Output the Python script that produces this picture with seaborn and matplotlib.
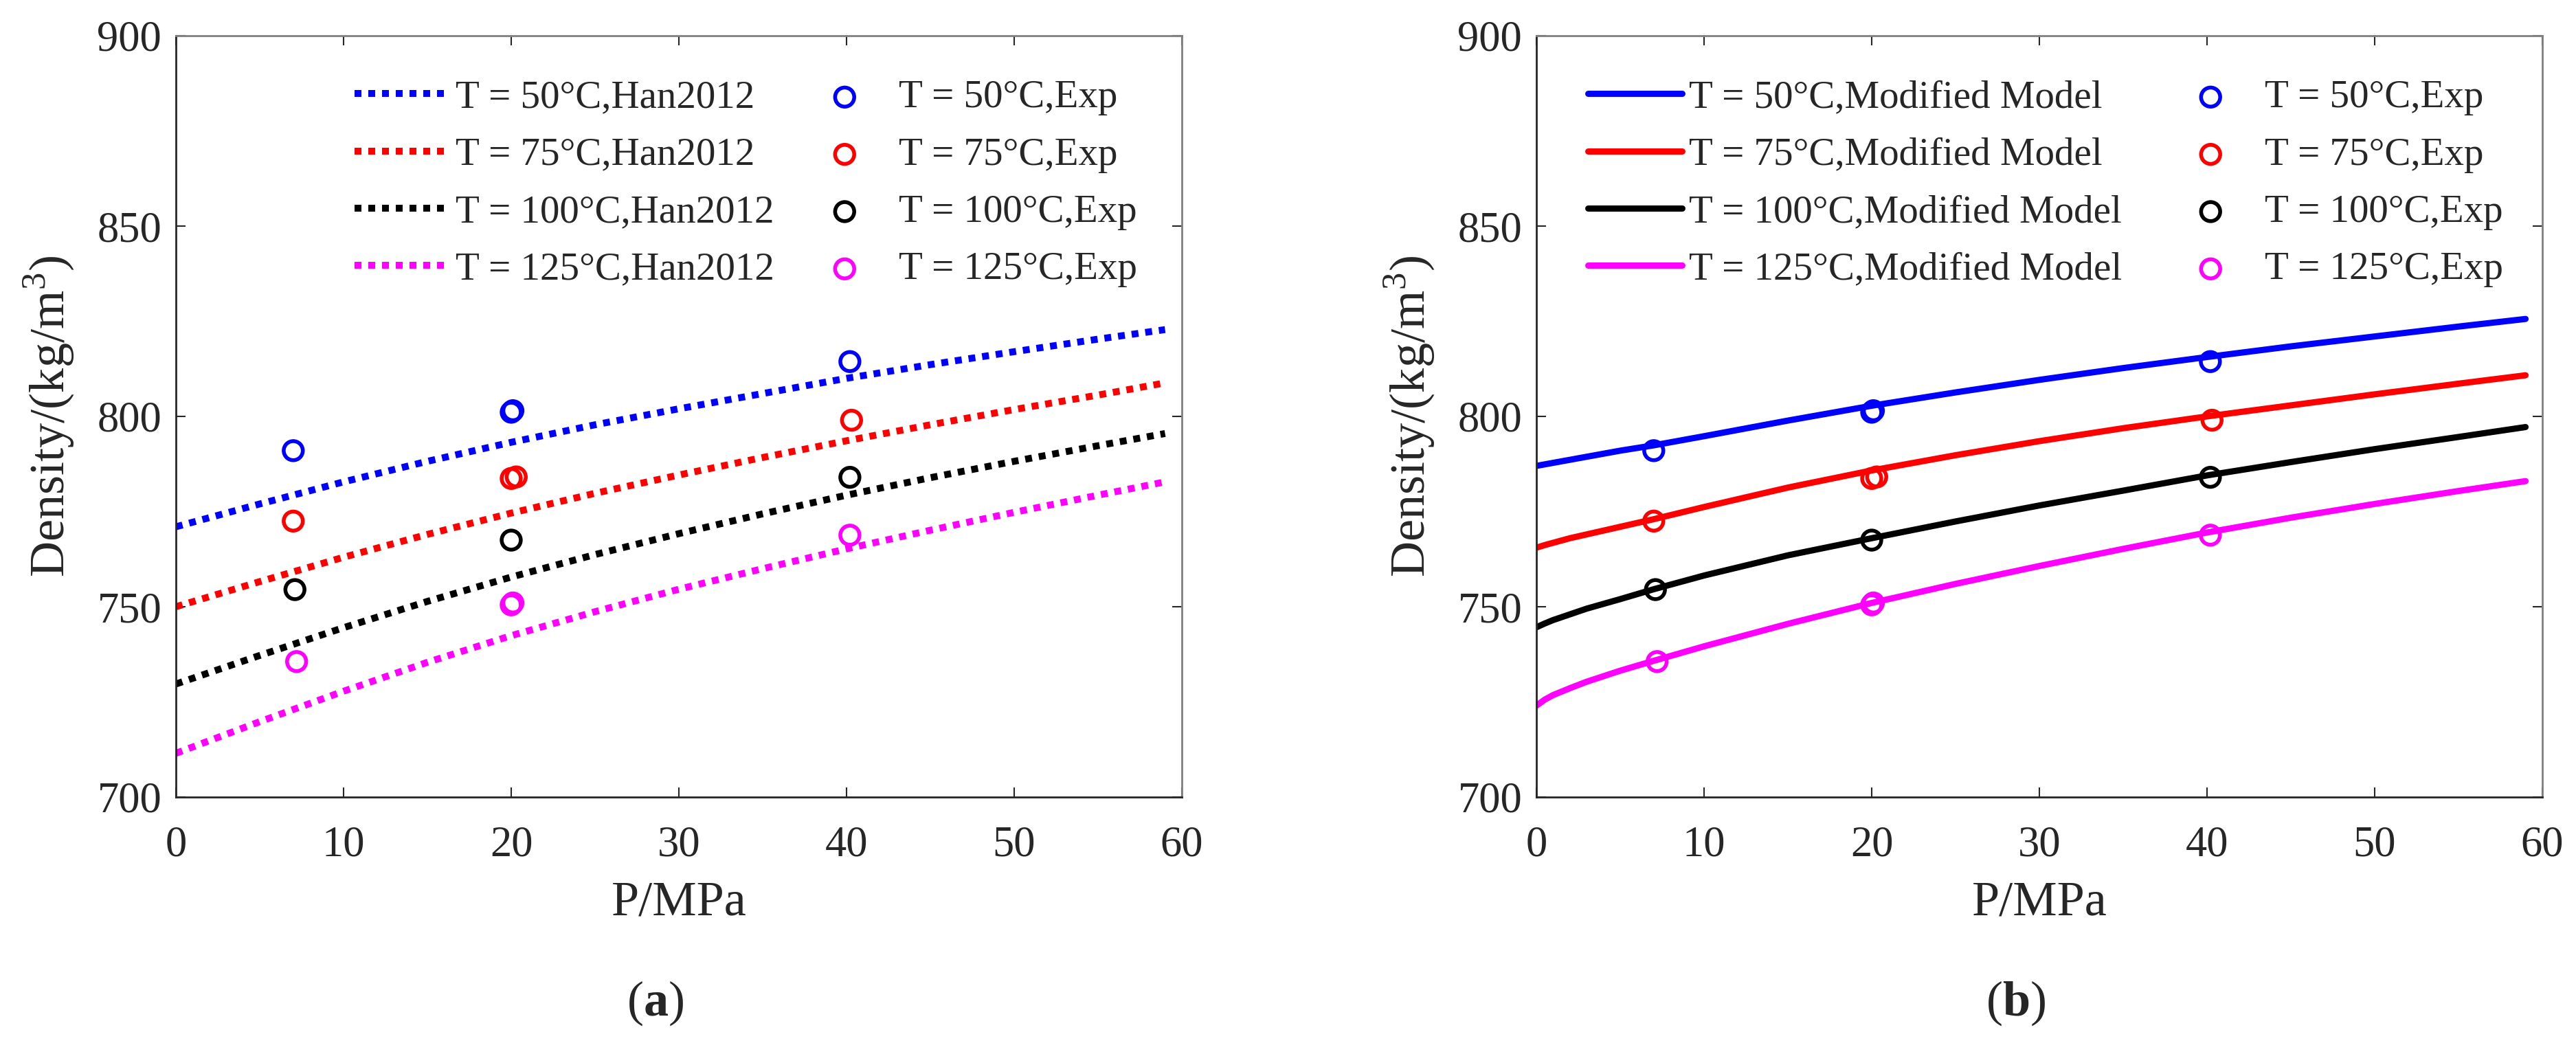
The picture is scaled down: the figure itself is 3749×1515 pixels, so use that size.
import numpy as np
import pandas as pd
import seaborn as sns
import matplotlib.pyplot as plt

# Temperatures and colours
temps = ["50", "75", "100", "125"]
colors = ["#0000ff", "#ff0000", "#000000", "#ff00ff"]

# Han2012 model (left panel)
p_han = [0, 5, 10, 15, 20, 25, 30, 35, 40, 45, 50, 55, 59]
han_50 = [771.0, 777.0, 782.8, 788.2, 793.2, 797.8, 802.0, 806.0, 810.0, 813.6, 817.0, 820.3, 822.8]
han_75 = [750.0, 756.6, 763.0, 769.0, 774.6, 779.8, 784.6, 789.2, 793.6, 797.8, 801.8, 805.6, 808.8]
han_100 = [729.7, 737.2, 744.5, 751.4, 757.8, 763.7, 769.2, 774.4, 779.3, 783.9, 788.2, 792.3, 795.5]
han_125 = [711.5, 719.8, 727.8, 735.4, 742.4, 748.7, 754.6, 760.0, 765.2, 770.1, 774.8, 779.3, 782.8]

# Modified model (right panel)
p_mod = [0, 0.5, 1, 2, 3, 5, 7, 10, 15, 20, 25, 30, 35, 40, 45, 50, 55, 59]
mod_50 = [787.0, 787.4, 787.8, 788.6, 789.4, 791.0, 792.4, 794.8, 798.9, 802.8, 806.3, 809.6, 812.7, 815.6, 818.4, 821.0, 823.6, 825.6]
mod_75 = [765.5, 766.2, 766.8, 768.0, 769.0, 771.0, 773.0, 776.2, 781.3, 785.8, 789.8, 793.5, 796.9, 800.0, 802.9, 805.8, 808.6, 810.8]
mod_100 = [744.6, 745.6, 746.5, 748.0, 749.5, 752.0, 754.6, 758.2, 763.5, 768.0, 772.4, 776.6, 780.5, 784.5, 788.0, 791.4, 794.6, 797.2]
mod_125 = [724.0, 725.6, 726.8, 728.6, 730.3, 733.2, 735.8, 739.6, 745.5, 751.0, 756.0, 760.7, 765.2, 769.5, 773.4, 777.0, 780.4, 783.0]

# Experimental points
p_exp_50 = [7.0, 20.0, 20.1, 40.2]
d_exp_50 = [791.0, 801.1, 801.5, 814.4]
p_exp_75 = [7.0, 20.0, 20.3, 40.3]
d_exp_75 = [772.5, 783.7, 784.1, 799.0]
p_exp_100 = [7.1, 20.0, 40.2]
d_exp_100 = [754.5, 767.5, 784.0]
p_exp_125 = [7.2, 20.0, 20.1, 40.2]
d_exp_125 = [735.6, 750.5, 751.0, 768.8]

han = [han_50, han_75, han_100, han_125]
mod = [mod_50, mod_75, mod_100, mod_125]
p_exp = [p_exp_50, p_exp_75, p_exp_100, p_exp_125]
d_exp = [d_exp_50, d_exp_75, d_exp_100, d_exp_125]

sns.set_style("ticks")
plt.rcParams["font.family"] = ["Liberation Serif", "DejaVu Serif"]
plt.rcParams["mathtext.fontset"] = "custom"
plt.rcParams["mathtext.rm"] = "Liberation Serif"
plt.rcParams["mathtext.bf"] = "Liberation Serif:bold"

W, H = 3749, 1515
fig = plt.figure(figsize=(W / 100, H / 100), dpi=100)
ax1 = fig.add_axes([256 / W, 1 - 1160 / H, 1464 / W, 1108 / H])
ax2 = fig.add_axes([2236 / W, 1 - 1160 / H, 1464 / W, 1108 / H])

for i, t in enumerate(temps):
    sns.lineplot(x=p_han, y=han[i], ax=ax1, color=colors[i], lw=7.2,
                 linestyle=(0, (1, 1)), label=f"T = {t}°C,Han2012")
    sns.lineplot(x=p_mod, y=mod[i], ax=ax2, color=colors[i], lw=6.5,
                 label=f"T = {t}°C,Modified Model")

for ax in (ax1, ax2):
    for i, t in enumerate(temps):
        sns.scatterplot(x=p_exp[i], y=d_exp[i], ax=ax, marker="o", s=400,
                        facecolor="none", edgecolor=colors[i], linewidth=4,
                        label=f"T = {t}°C,Exp", zorder=3)

for ax, anchor_x, colsp in ((ax1, 0.1776, 0.6), (ax2, 0.0512, 1.07)):
    ax.set_xlim(0, 60)
    ax.set_ylim(700, 900)
    ax.set_xticks(np.arange(0, 61, 10))
    ax.set_yticks(np.arange(700, 901, 50))
    ax.tick_params(direction="in", length=10, width=1.5, top=True, right=True,
                   labelsize=45, colors="#262626")
    ax.tick_params(axis="x", pad=30)
    ax.tick_params(axis="y", pad=15)
    for side in ("left", "bottom"):
        ax.spines[side].set_color("#262626")
        ax.spines[side].set_linewidth(2)
    for side in ("top", "right"):
        ax.spines[side].set_color("#808080")
        ax.spines[side].set_linewidth(2)
    ax.set_xlabel("P/MPa", fontsize=52, labelpad=16, color="#262626")
    ax.set_ylabel("Density/(kg/m$^3$)", fontsize=52, labelpad=22, color="#262626")
    handles, labels = ax.get_legend_handles_labels()
    ax.legend(handles, labels, ncol=2, loc="upper left",
              bbox_to_anchor=(anchor_x, 0.942), frameon=False, fontsize=41,
              handlelength=2.4, handletextpad=0.18, columnspacing=colsp,
              labelspacing=0.55, borderpad=0, borderaxespad=0)

fig.text(954 / W, 1 - 1460 / H, r"($\mathbf{a}$)", fontsize=52, ha="center", va="center")
fig.text(2934 / W, 1 - 1460 / H, r"($\mathbf{b}$)", fontsize=52, ha="center", va="center")

plt.savefig("out.png", dpi=100)
plt.close()
